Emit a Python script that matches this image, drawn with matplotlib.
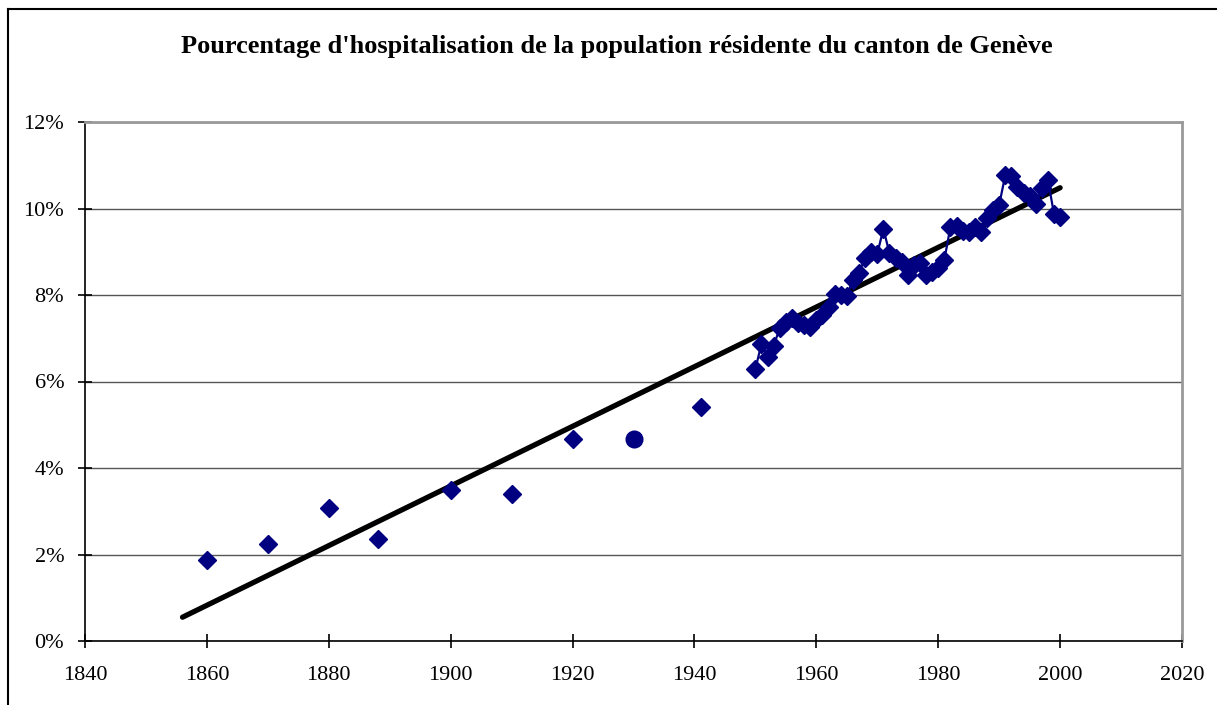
import matplotlib
matplotlib.use("Agg")
from matplotlib import pyplot as plt
from matplotlib.ticker import FuncFormatter

# early sparse measurements (markers only)
years_old = [1860, 1870, 1880, 1888, 1900, 1910, 1920, 1941]
pct_old = [1.87, 2.24, 3.07, 2.36, 3.49, 3.40, 4.67, 5.41]

# 1930 shown with a round marker
year_1930 = [1930]
pct_1930 = [4.67]

# yearly series 1950-2000 (markers + line)
years_new = list(range(1950, 2001))
pct_new = [6.29, 6.87, 6.57, 6.82, 7.24, 7.38, 7.47, 7.35, 7.31, 7.26,
           7.42, 7.54, 7.72, 8.02, 8.00, 7.98, 8.35, 8.51, 8.86, 8.99,
           8.95, 9.53, 8.97, 8.86, 8.76, 8.46, 8.69, 8.74, 8.46, 8.53,
           8.62, 8.81, 9.57, 9.60, 9.48, 9.46, 9.57, 9.46, 9.78, 9.97,
           10.08, 10.77, 10.75, 10.50, 10.36, 10.29, 10.10, 10.47, 10.66, 9.87,
           9.80]

# linear trend
trend_x = [1856, 2000]
trend_y = [0.55, 10.48]

title = "Pourcentage d'hospitalisation de la population résidente du canton de Genève"

plt.rcParams['font.family'] = ['Liberation Serif', 'DejaVu Serif']

fig = plt.figure(figsize=(12.17, 7.05), dpi=100)
ax = fig.add_axes([85 / 1217, 64 / 705, (1182 - 85) / 1217, (641 - 122) / 705])

navy = "#000080"
ax.plot(trend_x, trend_y, color="black", lw=3.8, solid_capstyle="round", zorder=2)
ax.plot(years_old, pct_old, ls="none", marker="D", ms=9.5, color=navy, zorder=3)
ax.plot(year_1930, pct_1930, ls="none", marker="o", ms=12, color=navy, zorder=3)
ax.plot(years_new, pct_new, ls="-", lw=1.6, marker="D", ms=9.5, color=navy, zorder=3)

ax.set_xlim(1840, 2020)
ax.set_ylim(0, 12)
ax.set_xticks(range(1840, 2021, 20))
ax.set_yticks(range(0, 13, 2))
ax.yaxis.set_major_formatter(FuncFormatter(lambda v, p: "%d%%" % v))
ax.grid(axis="y", color="#555555", lw=1)
ax.set_axisbelow(True)
ax.tick_params(direction="inout", length=10, width=1.2, labelsize=16, colors="black")
ax.tick_params(axis="x", pad=13)
ax.tick_params(axis="y", pad=10)

for s in ["top", "right"]:
    ax.spines[s].set_color("#999999")
    ax.spines[s].set_linewidth(2)
for s in ["left", "bottom"]:
    ax.spines[s].set_color("black")
    ax.spines[s].set_linewidth(1.2)

fig.text(617 / 1217, 1 - 46 / 705, title, ha="center", va="center",
         fontsize=19, fontweight="bold")

# outer chart frame (left and top edges visible)
fig.add_artist(plt.Line2D([8 / 1217, 8 / 1217], [0, 1 - 9 / 705], color="black", lw=1.5,
                          transform=fig.transFigure))
fig.add_artist(plt.Line2D([8 / 1217, 1], [1 - 9 / 705, 1 - 9 / 705], color="black", lw=1.5,
                          transform=fig.transFigure))

fig.savefig("out.png", dpi=100)
